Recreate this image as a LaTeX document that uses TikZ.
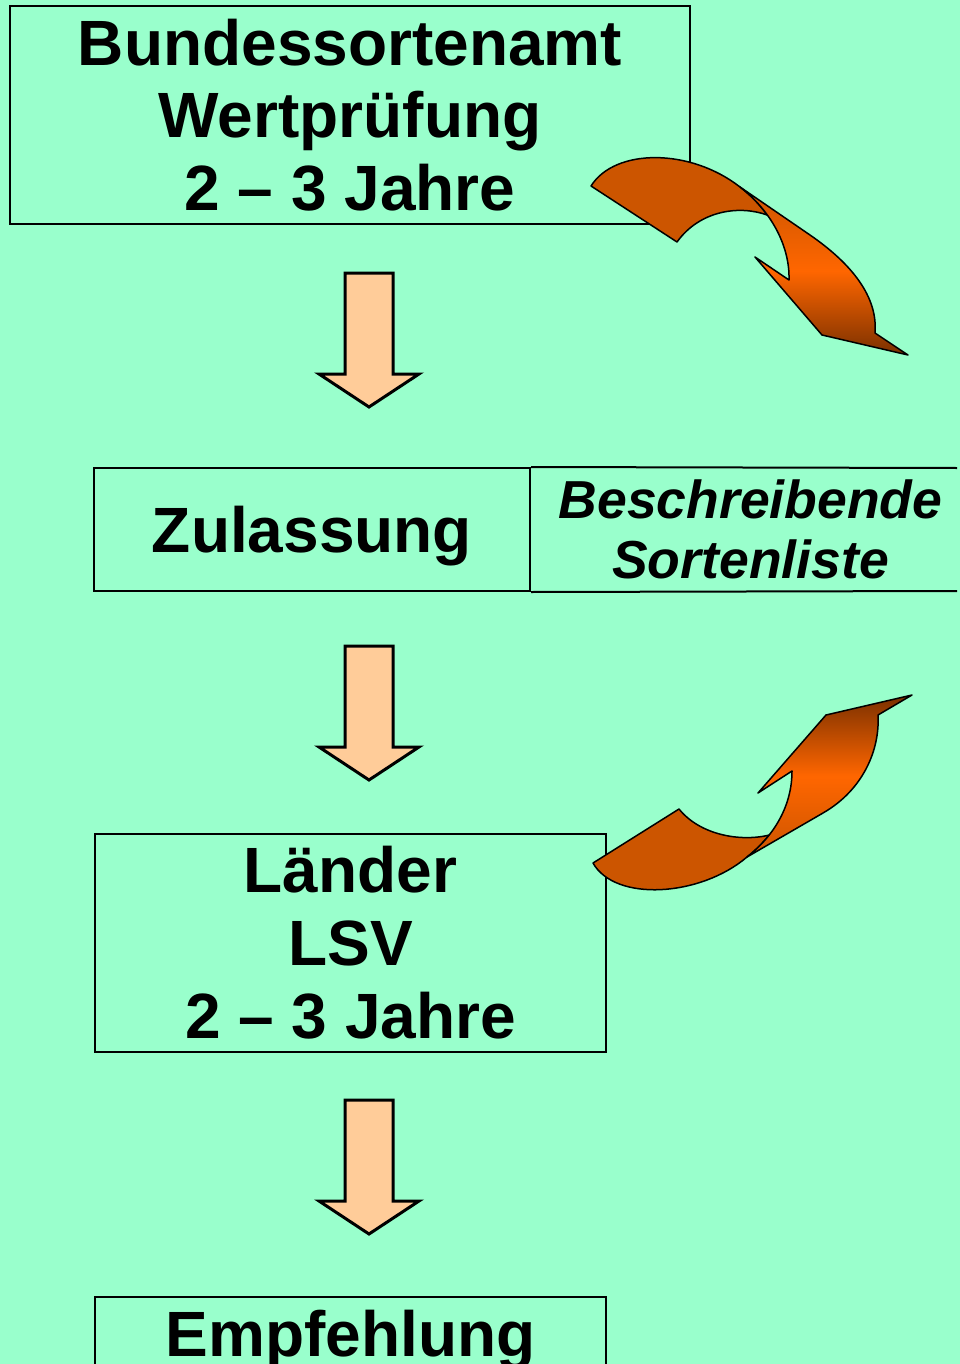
\documentclass[tikz,border=0pt]{standalone}
\usepackage{fontspec}
\setmainfont{Liberation Sans}
\definecolor{bg}{RGB}{153,255,204}
\definecolor{blockfill}{RGB}{255,204,153}
\definecolor{rustA}{RGB}{204,85,0}
\definecolor{rustMid}{RGB}{255,102,0}
\definecolor{rustDark}{RGB}{122,48,0}
\begin{document}
\begin{tikzpicture}[x=1pt,y=-1pt,
  box/.style={draw=black, line width=2pt, align=center, inner sep=0pt,
    font=\bfseries\fontsize{64}{73}\selectfont},
  blockarrow/.style={draw=black, line width=3pt, fill=blockfill, line join=miter},
  ribbonback/.style={draw=black, line width=1.5pt, fill=rustA, line join=round},
  ribbonfront/.style={draw=black, line width=1.5pt, line join=round},
  downarr/.pic={\draw[blockarrow] (-24,0) -- (24,0) -- (24,101) -- (50,101) -- (0,134) -- (-50,101) -- (-24,101) -- cycle;}
]
\useasboundingbox (0,0) rectangle (960,1364);
\fill[bg] (0,0) rectangle (960,1364);

% boxes
\node[box, minimum width=680pt, minimum height=218pt,
  font=\bfseries\fontsize{64}{72.8}\selectfont] (bsa) at (350,115)
  {Bundessortenamt\\Wertprüfung\\2 – 3 Jahre};
\node[box, minimum width=436pt, minimum height=123pt, text height=46pt, text depth=0pt]
  (zul) at (312,529.5) {Zulassung};
\node[align=center, inner sep=0pt, minimum height=123pt,
  font=\bfseries\itshape\fontsize{53.5}{60}\selectfont] (bsl) at (750.5,529.5)
  {Beschreibende\\Sortenliste};
\coordinate (slne) at (957,468);
\coordinate (slse) at (957,591);
\draw[line width=2pt] (zul.north east) -- (slne);
\draw[line width=2pt] (zul.south east) -- (slse);
\node[box, minimum width=511pt, minimum height=218pt] (lsv) at (350.5,943)
  {Länder\\LSV\\2 – 3 Jahre};
\node[box, anchor=north, minimum width=511pt, minimum height=72pt, text height=46pt, text depth=0pt]
  (emp) at (350.5,1296) {Empfehlung};

% block arrows
\pic at (369,273) {downarr};
\pic at (369,646) {downarr};
\pic at (369,1100) {downarr};

% top curved ribbon arrow
\draw[ribbonback] (591,186) .. controls (615,148) and (690,148) .. (740,187)
  .. controls (750.5,195) and (759.8,204.6) .. (767.3,215.1)
  .. controls (740,205) and (700,210) .. (677,242) -- cycle;
\draw[ribbonfront, top color=rustA, bottom color=rustDark, middle color=rustMid]
  (740,187) -- (810,235) .. controls (852,264) and (878,297) .. (875,333)
  -- (908,355) -- (822,335) -- (755,257) -- (789,280)
  .. controls (790,245) and (770,210) .. (740,187) -- cycle;

% bottom curved ribbon arrow
\draw[ribbonback] (593,863) .. controls (615,902) and (700,897) .. (747,857)
  .. controls (755.4,850.4) and (762.8,843.1) .. (769.1,835.1)
  .. controls (740,842) and (700,835) .. (679,809) -- cycle;
\draw[ribbonfront, top color=rustDark, bottom color=rustA, middle color=rustMid]
  (747,857) -- (823,813) .. controls (863,790) and (880,750) .. (878,715)
  -- (912,695) -- (826,715) -- (758,793) -- (792,771)
  .. controls (792,805) and (775,835) .. (747,857) -- cycle;
\end{tikzpicture}
\end{document}
